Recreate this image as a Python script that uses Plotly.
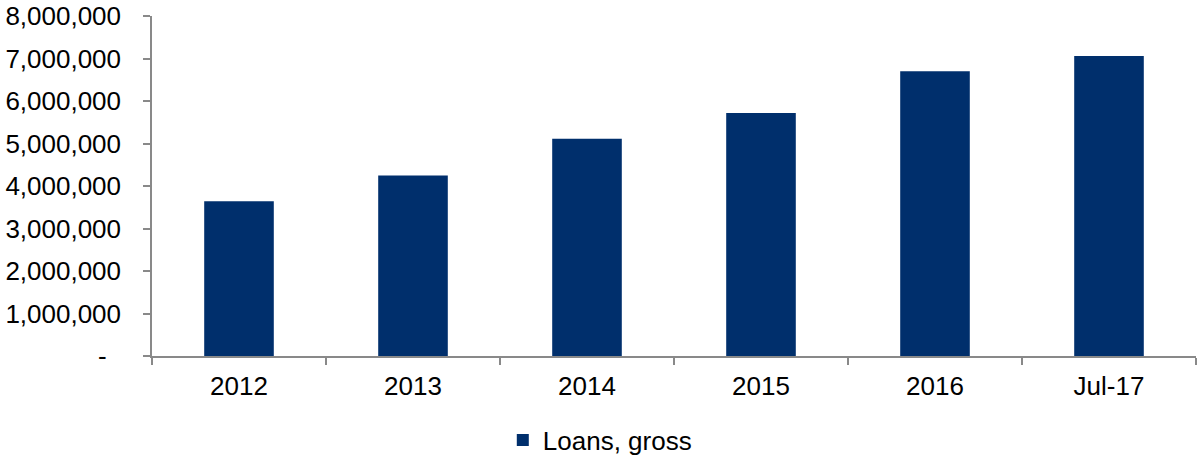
import plotly.graph_objects as go

# Gross loans by period
categories = ["2012", "2013", "2014", "2015", "2016", "Jul-17"]
loans_gross = [3640000, 4250000, 5110000, 5720000, 6700000, 7060000]

y_tick_values = [0, 1000000, 2000000, 3000000, 4000000, 5000000, 6000000, 7000000, 8000000]
y_tick_labels = ["-\u00a0\u00a0", "1,000,000", "2,000,000", "3,000,000", "4,000,000",
                 "5,000,000", "6,000,000", "7,000,000", "8,000,000"]

bar_color = "#002F6C"
axis_color = "#898989"
font_family = "Liberation Sans, Arial, sans-serif"

fig = go.Figure()
fig.add_trace(go.Bar(
    x=categories,
    y=loans_gross,
    name="Loans, gross",
    marker=dict(color=bar_color, line=dict(width=0)),
    width=0.4,
))

fig.update_layout(
    width=1200,
    height=457,
    margin=dict(l=152, r=4, t=16, b=101, autoexpand=False),
    paper_bgcolor="white",
    plot_bgcolor="white",
    font=dict(family=font_family, size=26, color="black"),
    showlegend=True,
    legend=dict(
        orientation="h",
        xref="container",
        x=0.419,
        xanchor="left",
        yref="container",
        y=0.037,
        yanchor="middle",
        font=dict(size=26),
        bgcolor="rgba(0,0,0,0)",
    ),
    bargap=0.6,
)

fig.update_xaxes(
    type="category",
    showline=True,
    linecolor=axis_color,
    linewidth=1.5,
    ticks="outside",
    tickson="boundaries",
    ticklen=7,
    tickcolor=axis_color,
    tickwidth=1.5,
    showgrid=False,
    zeroline=False,
    tickfont=dict(size=26),
    ticklabelstandoff=6,
    automargin=False,
)

fig.update_yaxes(
    range=[0, 8000000],
    tickvals=y_tick_values,
    ticktext=y_tick_labels,
    showline=True,
    linecolor=axis_color,
    linewidth=1.5,
    ticks="outside",
    ticklen=7,
    tickcolor=axis_color,
    tickwidth=1.5,
    showgrid=False,
    zeroline=False,
    tickfont=dict(size=26),
    ticklabelstandoff=17,
    automargin=False,
)

fig.write_html("out.html")
